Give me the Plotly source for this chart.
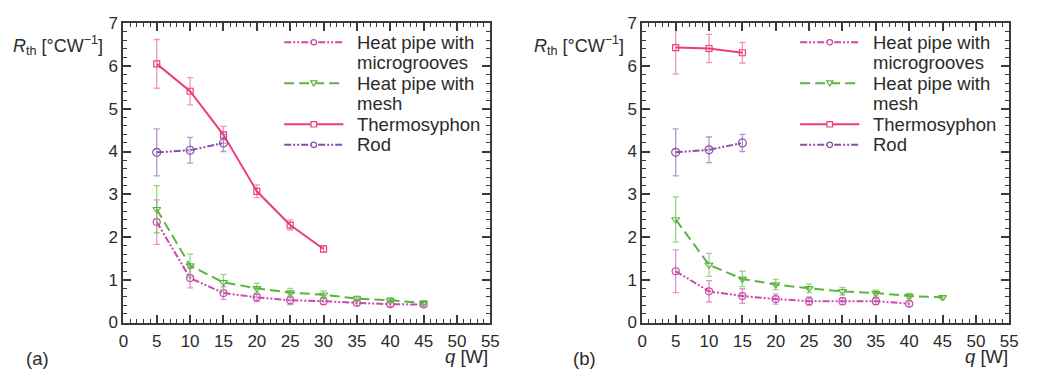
import plotly.graph_objects as go

# ---------------- data ----------------
q_a_micro = [5, 10, 15, 20, 25, 30, 35, 40, 45]
r_a_micro = [2.35, 1.04, 0.69, 0.59, 0.52, 0.50, 0.46, 0.43, 0.42]
e_a_micro = [0.52, 0.23, 0.15, 0.10, 0.10, 0.08, 0.06, 0.05, 0.05]

q_a_mesh = [5, 10, 15, 20, 25, 30, 35, 40, 45]
r_a_mesh = [2.65, 1.33, 0.94, 0.80, 0.70, 0.65, 0.56, 0.52, 0.46]
e_a_mesh = [0.55, 0.27, 0.18, 0.12, 0.10, 0.09, 0.06, 0.06, 0.05]

q_a_thermo = [5, 10, 15, 20, 25, 30]
r_a_thermo = [6.05, 5.41, 4.39, 3.07, 2.28, 1.72]
e_a_thermo = [0.57, 0.32, 0.20, 0.15, 0.12, 0.08]

q_a_rod = [5, 10, 15]
r_a_rod = [3.98, 4.03, 4.20]
e_a_rod = [0.55, 0.30, 0.20]

q_b_micro = [5, 10, 15, 20, 25, 30, 35, 40]
r_b_micro = [1.20, 0.73, 0.62, 0.55, 0.50, 0.50, 0.50, 0.44]
e_b_micro = [0.50, 0.25, 0.17, 0.12, 0.10, 0.08, 0.08, 0.06]

q_b_mesh = [5, 10, 15, 20, 25, 30, 35, 40, 45]
r_b_mesh = [2.41, 1.35, 1.02, 0.89, 0.80, 0.73, 0.69, 0.62, 0.59]
e_b_mesh = [0.53, 0.27, 0.18, 0.12, 0.10, 0.09, 0.07, 0.06, 0.04]

q_b_thermo = [5, 10, 15]
r_b_thermo = [6.43, 6.41, 6.31]
e_b_thermo = [0.62, 0.33, 0.24]

q_b_rod = [5, 10, 15]
r_b_rod = [3.98, 4.04, 4.20]
e_b_rod = [0.55, 0.30, 0.20]

names = ["Heat pipe with<br>microgrooves", "Heat pipe with<br>mesh", "Thermosyphon", "Rod"]
x_ticks = [0, 5, 10, 15, 20, 25, 30, 35, 40, 45, 50, 55]
y_ticks = [0, 1, 2, 3, 4, 5, 6, 7]

# ---------------- styles ----------------
FONT = "Liberation Sans, Arial, sans-serif"
TXT = "#2b2b2b"
AX = "#3a3a3a"
DASHDOT2 = "7px,2px,2px,2px,2px,2px"
styles = [
    dict(color="#C94AAA", err="rgba(215,110,190,0.75)", dash=DASHDOT2, symbol="circle-open", size=7, leg="circle"),
    dict(color="#5AB540", err="rgba(120,200,95,0.75)", dash="10px,5px", symbol="triangle-down-open", size=7, leg="tri"),
    dict(color="#EC3D7E", err="rgba(240,110,160,0.75)", dash="solid", symbol="square-open", size=6, leg="square"),
    dict(color="#8550A8", err="rgba(160,115,190,0.75)", dash=DASHDOT2, symbol="circle-open", size=8, leg="circle"),
]

panels = [
    ("x", "y", [(q_a_micro, r_a_micro, e_a_micro), (q_a_mesh, r_a_mesh, e_a_mesh),
                (q_a_thermo, r_a_thermo, e_a_thermo), (q_a_rod, r_a_rod, e_a_rod)]),
    ("x2", "y2", [(q_b_micro, r_b_micro, e_b_micro), (q_b_mesh, r_b_mesh, e_b_mesh),
                  (q_b_thermo, r_b_thermo, e_b_thermo), (q_b_rod, r_b_rod, e_b_rod)]),
]

fig = go.Figure()
for xa, ya, series in panels:
    for (qx, ry, ey), nm, st in zip(series, names, styles):
        fig.add_trace(go.Scatter(
            x=qx, y=ry, name=nm.replace("<br>", " "), mode="lines+markers", xaxis=xa, yaxis=ya,
            showlegend=False,
            line=dict(color=st["color"], width=2, dash=st["dash"]),
            marker=dict(symbol=st["symbol"], size=st["size"], color=st["color"],
                        line=dict(width=1.2, color=st["color"])),
            error_y=dict(type="data", array=ey, visible=True, color=st["err"], thickness=1.3, width=3),
            cliponaxis=True,
        ))

W, H = 1039, 381
def px_x(p):
    return p / W
def px_y(p):
    return 1 - p / H

axis_common = dict(
    range=[0, 55], tickvals=x_ticks, ticks="inside", ticklen=8, tickwidth=1.5, tickcolor=AX,
    showline=True, linecolor=AX, linewidth=2, mirror="allticks", showgrid=False, zeroline=False,
    tickfont=dict(family=FONT, size=17, color=TXT), ticklabelstandoff=2,
    minor=dict(dtick=1, ticks="inside", ticklen=4, tickwidth=1, tickcolor=AX, showgrid=False),
)
yaxis_common = dict(
    range=[0, 7], tickvals=y_ticks, ticks="inside", ticklen=8, tickwidth=1.5, tickcolor=AX,
    showline=True, linecolor=AX, linewidth=2, mirror="allticks", showgrid=False, zeroline=False,
    tickfont=dict(family=FONT, size=17, color=TXT),
    minor=dict(dtick=0.2, ticks="inside", ticklen=4, tickwidth=1, tickcolor=AX, showgrid=False),
)

ydom = [px_y(330), px_y(15)]
fig.update_layout(
    width=W, height=H, margin=dict(l=0, r=0, t=0, b=0),
    paper_bgcolor="white", plot_bgcolor="white",
    font=dict(family=FONT, size=17, color=TXT),
    xaxis=dict(domain=[px_x(120), px_x(492)], anchor="y", **axis_common),
    yaxis=dict(domain=ydom, anchor="x", **yaxis_common),
    xaxis2=dict(domain=[px_x(646), px_x(1018)], anchor="y2", **axis_common),
    yaxis2=dict(domain=ydom, anchor="x2", **yaxis_common),
    showlegend=False,
)

ann = dict(showarrow=False, xref="paper", yref="paper")
f18 = dict(family=FONT, size=18, color=TXT)
f185 = dict(family=FONT, size=18.5, color=TXT)

# axis titles and panel labels
for xl in (6, 534):
    fig.add_annotation(text="<i>R</i><sub>th</sub> [°CW<sup>−1</sup>]", x=px_x(xl), y=px_y(38),
                       xanchor="left", yanchor="middle", font=f18, **ann)
fig.add_annotation(text="<i>q</i> [W]", x=px_x(491), y=px_y(366), xanchor="right", yanchor="middle",
                   font=f185, borderpad=0, **ann)
fig.add_annotation(text="<i>q</i> [W]", x=px_x(1018), y=px_y(366), xanchor="right", yanchor="middle",
                   font=f185, borderpad=0, **ann)
fig.add_annotation(text="(a)", x=px_x(19), y=px_y(368), xanchor="left", yanchor="middle", font=f185, **ann)
fig.add_annotation(text="(b)", x=px_x(574), y=px_y(368), xanchor="left", yanchor="middle", font=f185, **ann)

# ---------------- legends (one per panel) ----------------
LEG_TOP = 35       # first text row centre (px)
LEG_STEP = 21.6    # text line spacing (px)
for text_x in (355, 878):
    row = 0
    lx0, lx1 = text_x - 72, text_x - 12
    cx = (lx0 + lx1) / 2
    for nm, st in zip(names, styles):
        lines = nm.split("<br>")
        cy = LEG_TOP + row * LEG_STEP
        fig.add_shape(type="line", xref="paper", yref="paper",
                      x0=px_x(lx0), x1=px_x(lx1), y0=px_y(cy), y1=px_y(cy),
                      line=dict(color=st["color"], width=2, dash=st["dash"]))
        r = 2.8
        mk = dict(xref="paper", yref="paper", fillcolor="white", line=dict(color=st["color"], width=1.2))
        if st["leg"] == "circle":
            fig.add_shape(type="circle", x0=px_x(cx - r), x1=px_x(cx + r), y0=px_y(cy - r), y1=px_y(cy + r), **mk)
        elif st["leg"] == "square":
            fig.add_shape(type="rect", x0=px_x(cx - r), x1=px_x(cx + r), y0=px_y(cy - r), y1=px_y(cy + r), **mk)
        else:
            path = (f"M {px_x(cx - 3.2)},{px_y(cy - 2.6)} L {px_x(cx + 3.2)},{px_y(cy - 2.6)} "
                    f"L {px_x(cx)},{px_y(cy + 3)} Z")
            fig.add_shape(type="path", path=path, **mk)
        for ln in lines:
            fig.add_annotation(text=ln, x=px_x(text_x), y=px_y(LEG_TOP + row * LEG_STEP),
                               xanchor="left", yanchor="middle", font=f185, **ann)
            row += 1

fig.write_html("out.html")
